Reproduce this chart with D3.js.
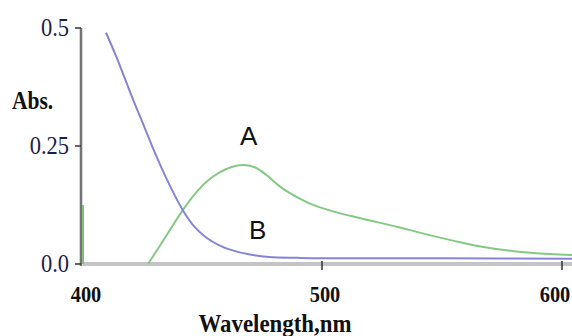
<!DOCTYPE html>
<html>
<head>
<meta charset="utf-8">
<script src="https://cdn.jsdelivr.net/npm/d3@7"></script>
<style>
  body { margin: 0; background: #fff; }
  svg { display: block; }
</style>
</head>
<body>
<svg id="chart"></svg>
<script>
// curve A (green)
const waveA = [427.5, 432, 437, 442, 447, 452, 457, 462, 467, 472, 477, 482, 487, 495, 505, 516, 532, 541, 555, 566, 580, 595, 605];
const absA  = [0, 0.035, 0.075, 0.114, 0.148, 0.175, 0.193, 0.205, 0.21, 0.205, 0.188, 0.166, 0.149, 0.128, 0.111, 0.097, 0.078, 0.066, 0.049, 0.037, 0.027, 0.021, 0.019];
// curve B (blue)
const waveB = [410, 414, 418, 422, 426, 430, 435, 442, 447, 452, 457, 462, 470, 478, 490, 500, 550, 605];
const absB  = [0.49, 0.443, 0.391, 0.339, 0.29, 0.24, 0.183, 0.114, 0.078, 0.055, 0.04, 0.03, 0.02, 0.015, 0.013, 0.012, 0.012, 0.011];
// little green stub on the y axis
const stubWave = [400, 400];
const stubAbs = [0, 0.125];

const xTicks = [400, 500, 600];
const yTicks = [0, 0.25, 0.5];
const yTickLabels = ['0.0', '0.25', '0.5'];

const width = 572, height = 336;
const svg = d3.select('#chart').attr('width', width).attr('height', height);

const x = d3.scaleLinear().domain([400, 600]).range([82, 562]);
const y = d3.scaleLinear().domain([0, 0.5]).range([264, 28]);

// x axis: thick light grey bar running to the edge
svg.append('line')
  .attr('x1', x(400)).attr('x2', width)
  .attr('y1', y(0)).attr('y2', y(0))
  .attr('stroke', '#c4c4c4').attr('stroke-width', 4);

// y axis
svg.append('line')
  .attr('x1', x(400) - 1).attr('x2', x(400) - 1)
  .attr('y1', y(0.5)).attr('y2', y(0) + 2)
  .attr('stroke', '#d8d8d8').attr('stroke-width', 4);
svg.append('line')
  .attr('x1', x(400) - 1).attr('x2', x(400) - 1)
  .attr('y1', y(0.5)).attr('y2', y(0) + 2)
  .attr('stroke', '#555').attr('stroke-width', 1.5);

// ticks
svg.selectAll('.ytick').data(yTicks).join('line')
  .attr('class', 'ytick')
  .attr('x1', x(400) - 7).attr('x2', x(400) - 1)
  .attr('y1', d => y(d)).attr('y2', d => y(d))
  .attr('stroke', '#333').attr('stroke-width', 1.5);

svg.selectAll('.xtick').data(xTicks.slice(1)).join('line')
  .attr('class', 'xtick')
  .attr('x1', d => x(d)).attr('x2', d => x(d))
  .attr('y1', y(0) - 3).attr('y2', y(0) + 6)
  .attr('stroke', '#333').attr('stroke-width', 1.5);

// tick labels
svg.selectAll('.ylab').data(yTicks).join('text')
  .attr('class', 'ylab')
  .attr('transform', d => `translate(${x(400) - 13},${y(d) + 8}) scale(0.9,1)`)
  .attr('text-anchor', 'end')
  .attr('font-family', 'Liberation Serif, Times New Roman, serif')
  .attr('font-size', 25)
  .attr('fill', '#1e1e46')
  .text((d, i) => yTickLabels[i]);

const xLabelShift = {400: 4, 500: 3, 600: -7};
svg.selectAll('.xlab').data(xTicks).join('text')
  .attr('class', 'xlab')
  .attr('transform', d => `translate(${x(d) + xLabelShift[d]},302) scale(0.85,1)`)
  .attr('text-anchor', 'middle')
  .attr('font-family', 'Liberation Serif, Times New Roman, serif')
  .attr('font-weight', 'bold')
  .attr('font-size', 24)
  .attr('fill', '#111')
  .text(d => d);

// axis titles
svg.append('text')
  .attr('transform', 'translate(275,332) scale(0.88,1)')
  .attr('text-anchor', 'middle')
  .attr('font-family', 'Liberation Serif, Times New Roman, serif')
  .attr('font-weight', 'bold')
  .attr('font-size', 26)
  .attr('fill', '#111')
  .text('Wavelength,nm');

svg.append('text')
  .attr('transform', 'translate(12,109) scale(0.86,1)')
  .attr('font-family', 'Liberation Serif, Times New Roman, serif')
  .attr('font-weight', 'bold')
  .attr('font-size', 25)
  .attr('fill', '#111')
  .text('Abs.');

// curves
const line = d3.line().x(d => x(d[0])).y(d => y(d[1])).curve(d3.curveCatmullRom.alpha(0.5));

svg.append('path')
  .datum(stubWave.map((w, i) => [w, stubAbs[i]]))
  .attr('d', d3.line().x(d => x(d[0]) + 1).y(d => y(d[1])))
  .attr('stroke', '#7cc07c').attr('stroke-width', 2).attr('fill', 'none');

svg.append('path')
  .datum(waveA.map((w, i) => [w, absA[i]]))
  .attr('d', line)
  .attr('fill', 'none')
  .attr('stroke', '#85c985')
  .attr('stroke-width', 2);

svg.append('path')
  .datum(waveB.map((w, i) => [w, absB[i]]))
  .attr('d', line)
  .attr('fill', 'none')
  .attr('stroke', '#8585d6')
  .attr('stroke-width', 2);

// curve labels
svg.append('text')
  .attr('x', 240).attr('y', 145)
  .attr('font-family', 'Liberation Sans, Arial, sans-serif')
  .attr('font-size', 26)
  .attr('fill', '#111')
  .text('A');

svg.append('text')
  .attr('x', 249).attr('y', 239)
  .attr('font-family', 'Liberation Sans, Arial, sans-serif')
  .attr('font-size', 26)
  .attr('fill', '#111')
  .text('B');
</script>
</body>
</html>
